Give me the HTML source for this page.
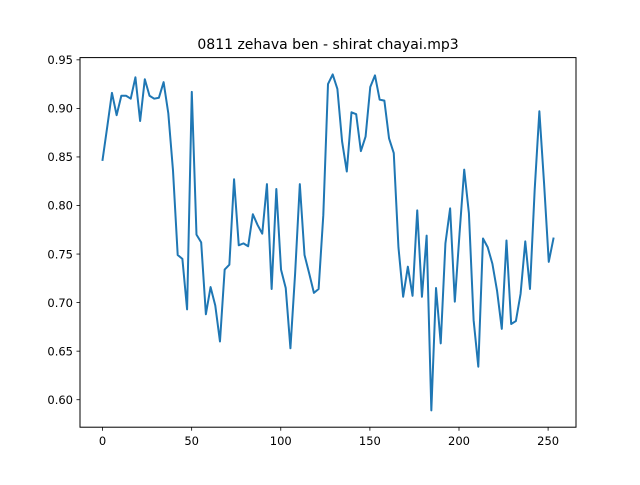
<!DOCTYPE html>
<html><head><meta charset="utf-8"><style>
body{margin:0;background:#fff}
svg text{font-family:"DejaVu Sans","Liberation Sans",sans-serif;fill:#000}
</style></head><body>
<svg id="chart" width="640" height="480" xmlns="http://www.w3.org/2000/svg">
<rect width="640" height="480" fill="#fff"/>
<text x="328" y="49" font-size="14" text-anchor="middle">0811 zehava ben - shirat chayai.mp3</text>
<g id="plot"></g>
<rect x="80" y="57.6" width="496" height="369.6" fill="none" stroke="#000" stroke-width="1"/>
</svg>
<script>
const xTicks=[0,50,100,150,200,250];
const yTicks=[0.60,0.65,0.70,0.75,0.80,0.85,0.90,0.95];
const yTickLabels=["0.60","0.65","0.70","0.75","0.80","0.85","0.90","0.95"];
const values=[0.847,0.881,0.916,0.893,0.913,0.913,0.910,0.932,0.887,0.930,0.913,0.910,0.911,0.927,0.895,0.836,0.749,0.745,0.693,0.917,0.770,0.762,0.688,0.716,0.697,0.660,0.734,0.739,0.827,0.759,0.761,0.758,0.791,0.780,0.771,0.822,0.714,0.817,0.734,0.715,0.653,0.730,0.822,0.749,0.730,0.710,0.714,0.790,0.925,0.935,0.920,0.866,0.835,0.896,0.894,0.856,0.871,0.922,0.934,0.909,0.908,0.869,0.854,0.757,0.706,0.737,0.707,0.795,0.706,0.769,0.589,0.715,0.658,0.761,0.797,0.701,0.771,0.837,0.792,0.682,0.634,0.766,0.757,0.740,0.712,0.673,0.764,0.678,0.681,0.709,0.763,0.714,0.816,0.897,0.823,0.742,0.766];
const xMax=253;
const NS="http://www.w3.org/2000/svg";
const L=80,R=576,T=57.6,B=427.2;
const n=values.length;
const xs=values.map((v,i)=>i*xMax/(n-1));
const x0=-0.05*xMax,x1=xMax*1.05;
const ymin=Math.min(...values),ymax=Math.max(...values),pad=(ymax-ymin)*0.05;
const y0=ymin-pad,y1=ymax+pad;
const X=v=>L+(v-x0)/(x1-x0)*(R-L);
const Y=v=>B-(v-y0)/(y1-y0)*(B-T);
const g=document.getElementById('plot');
function mk(t,a){const e=document.createElementNS(NS,t);for(const k in a)e.setAttribute(k,a[k]);g.appendChild(e);return e;}
xTicks.forEach(t=>{
 const l=mk('line',{x1:X(t),x2:X(t),y1:B,y2:B+3.5,stroke:'#000','stroke-width':0.8});
 
 
 const tx=mk('text',{x:X(t),y:B+18,'font-size':11.5,'text-anchor':'middle'});tx.textContent=t;
 
 
});
yTicks.forEach((t,i)=>{
 const l=mk('line',{x1:L-3.5,x2:L,y1:Y(t),y2:Y(t),stroke:'#000','stroke-width':0.8});
 
 
 const tx=mk('text',{x:L-7,y:Y(t)+4.2,'font-size':11.5,'text-anchor':'end'});tx.textContent=yTickLabels[i];
 
 
});
const p=mk('polyline',{points:values.map((v,i)=>X(xs[i]).toFixed(2)+','+Y(v).toFixed(2)).join(' '),fill:'none',stroke:'#1f77b4','stroke-width':2,'stroke-linejoin':'round','stroke-linecap':'square'});


</script>
</body></html>
